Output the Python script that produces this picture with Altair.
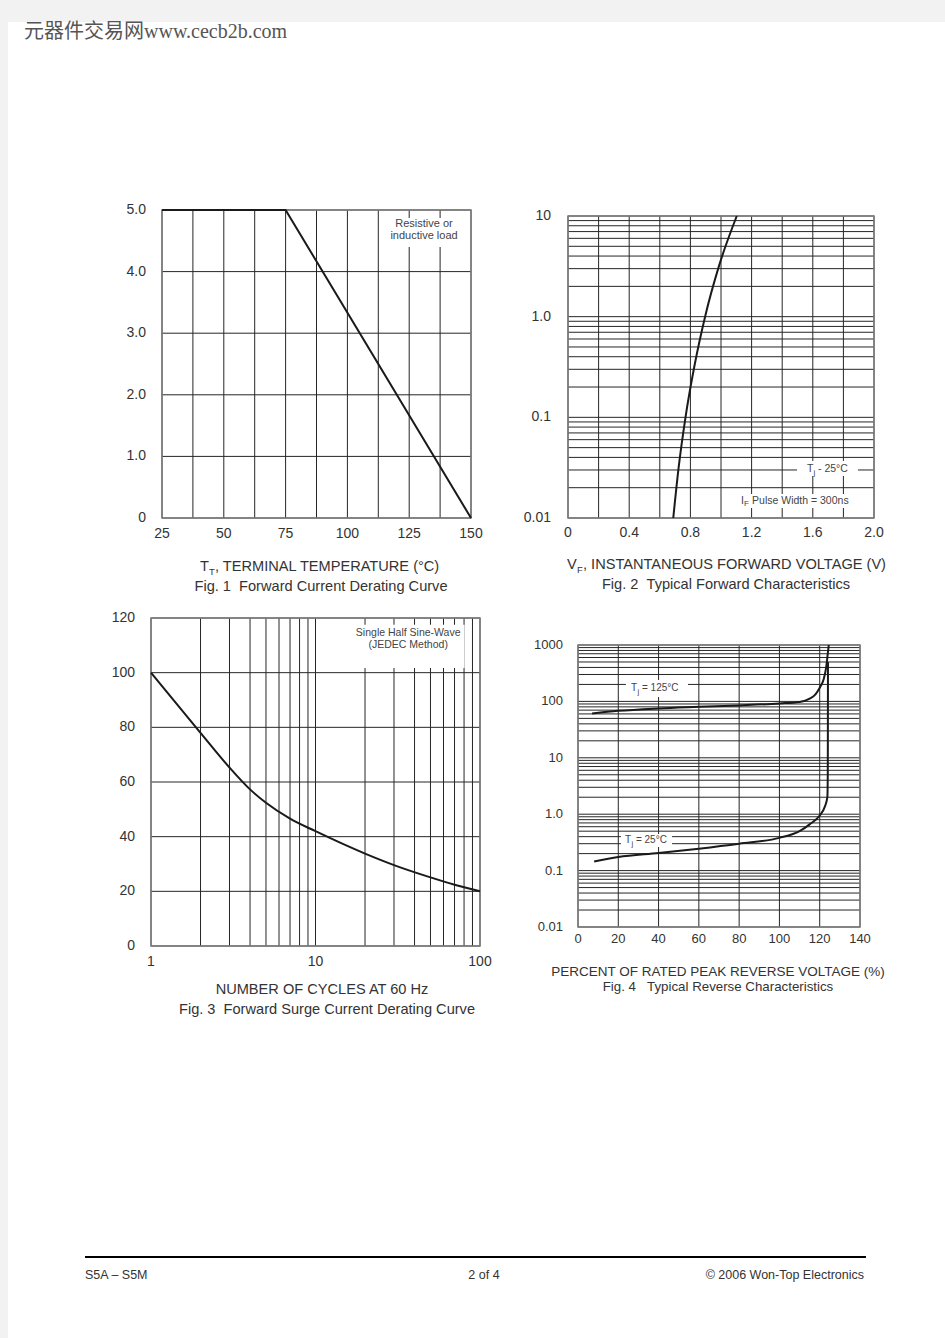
import altair as alt
import pandas as pd

FONT = "Liberation Sans"
TXT = "#333333"
GRID = "#262626"
FRAME = "#808080"
CURVE = "#1a1a1a"
NB = "\u00a0"

# ---------------- Fig. 1 : Forward current derating ----------------
F1_TEMP = [25, 75, 150]
F1_CURRENT = [5.0, 5.0, 0.0]
F1_XGRID = [25, 37.5, 50, 62.5, 75, 87.5, 100, 112.5, 125, 137.5, 150]
F1_YGRID = [0, 1, 2, 3, 4, 5]
F1_XTICKS = [25, 50, 75, 100, 125, 150]
F1_XLABELS = ["25", "50", "75", "100", "125", "150"]
F1_YTICKS = [0, 1, 2, 3, 4, 5]
F1_YLABELS = ["0", "1.0", "2.0", "3.0", "4.0", "5.0"]

# ---------------- Fig. 2 : Forward characteristics ----------------
F2_VF = [0.688, 0.723, 0.768, 0.825, 0.896, 0.986, 1.103]
F2_IF = [0.01, 0.0316, 0.1, 0.316, 1.0, 3.16, 10]
F2_XGRID = [0, 0.2, 0.4, 0.6, 0.8, 1.0, 1.2, 1.4, 1.6, 1.8, 2.0]
F2_XTICKS = [0, 0.4, 0.8, 1.2, 1.6, 2.0]
F2_XLABELS = ["0", "0.4", "0.8", "1.2", "1.6", "2.0"]
F2_YTICKS = [0.01, 0.1, 1, 10]
F2_YLABELS = ["0.01", "0.1", "1.0", "10"]

# ---------------- Fig. 3 : Surge current derating ----------------
F3_CYCLES = [1, 2, 3, 4, 5, 7, 10, 20, 30, 50, 70, 100]
F3_SURGE = [100, 78.0, 65.3, 57.3, 52.4, 46.6, 42.0, 33.8, 29.6, 25.1, 22.4, 20]
F3_YGRID = [0, 20, 40, 60, 80, 100, 120]
F3_XTICKS = [1, 10, 100]
F3_XLABELS = ["1", "10", "100"]
F3_YTICKS = [0, 20, 40, 60, 80, 100, 120]
F3_YLABELS = ["0", "20", "40", "60", "80", "100", "120"]

# ---------------- Fig. 4 : Reverse characteristics ----------------
F4_PCT_125 = [7, 20, 40, 60, 80, 100, 110, 115, 118, 120, 122, 123.2, 124, 124.5]
F4_IR_125 = [61, 68, 75, 80, 85, 92, 98, 112, 135, 175, 250, 400, 700, 1000]
F4_PCT_25 = [8, 20, 40, 60, 80, 100, 110, 115, 120, 122.5, 123.8, 124.0, 124.05, 124.1]
F4_IR_25 = [0.145, 0.174, 0.205, 0.245, 0.30, 0.38, 0.50, 0.66, 0.95, 1.35, 2.0, 5, 30, 500]
F4_XGRID = [0, 20, 40, 60, 80, 100, 120, 140]
F4_XTICKS = [0, 20, 40, 60, 80, 100, 120, 140]
F4_XLABELS = ["0", "20", "40", "60", "80", "100", "120", "140"]
F4_YTICKS = [0.01, 0.1, 1, 10, 100, 1000]
F4_YLABELS = ["0.01", "0.1", "1.0", "10", "100", "1000"]

# log grid steps inside one decade
DECADE_STEPS = [1, 2, 3, 4, 5, 6, 7, 8, 9]


def log_grid(first_exp, last_exp):
    vals = []
    for e in range(first_exp, last_exp):
        for m in DECADE_STEPS:
            vals.append(m * 10.0 ** e)
    vals.append(10.0 ** last_exp)
    return vals


F2_YGRID = log_grid(-2, 1)
F3_XGRID = log_grid(0, 2)
F4_YGRID = log_grid(-2, 3)


def lin(domain, rng):
    return alt.Scale(type="linear", domain=domain, range=rng, nice=False, zero=False)


def logs(domain, rng):
    return alt.Scale(type="log", domain=domain, range=rng, nice=False)


def X(field, sc):
    return alt.X(field, type="quantitative", scale=sc, axis=None)


def Y(field, sc):
    return alt.Y(field, type="quantitative", scale=sc, axis=None)


def grid(xs, ys, xd, yd, xgrid, ygrid):
    v = pd.DataFrame({"v": xgrid, "lo": yd[0], "hi": yd[1]})
    h = pd.DataFrame({"v": ygrid, "lo": xd[0], "hi": xd[1]})
    vl = alt.Chart(v).mark_rule(color=GRID, strokeWidth=1).encode(
        x=X("v", xs), y=Y("lo", ys), y2="hi:Q")
    hl = alt.Chart(h).mark_rule(color=GRID, strokeWidth=1).encode(
        y=Y("v", ys), x=X("lo", xs), x2="hi:Q")
    return [vl, hl]


def frame(xs, ys, xd, yd):
    df = pd.DataFrame({"x": [xd[0]], "x2": [xd[1]], "y": [yd[0]], "y2": [yd[1]]})
    return alt.Chart(df).mark_rect(fill="transparent", stroke=FRAME, strokeWidth=1.5).encode(
        x=X("x", xs), x2="x2:Q", y=Y("y", ys), y2="y2:Q")


def labels(xs, ys, xd, yd, xt, xl, yt, yl, size, xdy, ydx):
    dfx = pd.DataFrame({"v": xt, "t": xl, "b": yd[0]})
    dfy = pd.DataFrame({"v": yt, "t": yl, "b": xd[0]})
    lx = alt.Chart(dfx).mark_text(font=FONT, fontSize=size, color=TXT, baseline="middle",
                                  align="center", dy=xdy).encode(
        x=X("v", xs), y=Y("b", ys), text="t:N")
    ly = alt.Chart(dfy).mark_text(font=FONT, fontSize=size, color=TXT, baseline="middle",
                                  align="right", dx=-ydx).encode(
        x=X("b", xs), y=Y("v", ys), text="t:N")
    return [lx, ly]


def curve(xs, ys, xv, yv, interp="monotone"):
    df = pd.DataFrame({"x": xv, "y": yv, "o": list(range(len(xv)))})
    return alt.Chart(df).mark_line(color=CURVE, strokeWidth=2, interpolate=interp).encode(
        x=X("x", xs), y=Y("y", ys), order="o:Q")


def box(xs, ys, x0, x1, y0, y1):
    df = pd.DataFrame({"x": [x0], "x2": [x1], "y": [y0], "y2": [y1]})
    return alt.Chart(df).mark_rect(color="white").encode(
        x=X("x", xs), x2="x2:Q", y=Y("y", ys), y2="y2:Q")


def ann(xs, ys, x, y, pieces, align="left"):
    out = []
    for text, dx, dy, size in pieces:
        df = pd.DataFrame({"x": [x], "y": [y], "t": [text]})
        out.append(alt.Chart(df).mark_text(font=FONT, fontSize=size, color="#444444",
                                           align=align, baseline="middle", dx=dx, dy=dy).encode(
            x=X("x", xs), y=Y("y", ys), text="t:N"))
    return out


def page_text(text, px, py, size, align="center", font=FONT, color=TXT, baseline="middle"):
    df = pd.DataFrame({"t": [text]})
    return alt.Chart(df).mark_text(font=font, fontSize=size, color=color, align=align,
                                   baseline=baseline).encode(
        x=alt.value(px), y=alt.value(py), text="t:N")


layers = []

# page
one = pd.DataFrame({"k": [0]})
layers.append(alt.Chart(one).mark_rect(color="white").encode(
    x=alt.value(8), x2=alt.value(945), y=alt.value(22), y2=alt.value(1338)))
layers.append(page_text("元器件交易网www.cecb2b.com", 24, 38, 20, align="left",
                        font="Liberation Serif, Noto Sans CJK SC", color="#555555",
                        baseline="alphabetic"))

CAP = 14.6

# ---- Fig 1 ----
xd1, yd1 = [25, 150], [0, 5]
xs1, ys1 = lin(xd1, [162, 471]), lin(yd1, [518, 210])
layers += grid(xs1, ys1, xd1, yd1, F1_XGRID, F1_YGRID)
layers.append(frame(xs1, ys1, xd1, yd1))
layers.append(box(xs1, ys1, 116.4, 145.6, 4.40, 4.87))
layers += ann(xs1, ys1, 131, 4.77, [("Resistive or", 0, 0, 11)], align="center")
layers += ann(xs1, ys1, 131, 4.58, [("inductive load", 0, 0, 11)], align="center")
layers.append(curve(xs1, ys1, F1_TEMP, F1_CURRENT, interp="linear"))
layers += labels(xs1, ys1, xd1, yd1, F1_XTICKS, F1_XLABELS, F1_YTICKS, F1_YLABELS, 14, 16, 16)
layers.append(page_text("T", 200, 567, CAP, align="left"))
layers.append(page_text("T", 209, 572, 9.5, align="left"))
layers.append(page_text(", TERMINAL TEMPERATURE (°C)", 215, 567, CAP, align="left"))
layers.append(page_text("Fig. 1" + NB + NB + "Forward Current Derating Curve", 321, 587, CAP))

# ---- Fig 2 ----
xd2, yd2 = [0, 2.0], [0.01, 10]
xs2, ys2 = lin(xd2, [568, 874]), logs(yd2, [518, 216])
layers += grid(xs2, ys2, xd2, yd2, F2_XGRID, F2_YGRID)
layers.append(frame(xs2, ys2, xd2, yd2))
layers.append(box(xs2, ys2, 1.497, 1.895, 0.0261, 0.0368))
layers.append(box(xs2, ys2, 1.105, 1.863, 0.0126, 0.0173))
layers += ann(xs2, ys2, 1.562, 0.0307, [("T", 0, 0, 10.5), ("j", 6.5, 4, 8), ("- 25°C", 11, 0, 10.5)])
layers += ann(xs2, ys2, 1.131, 0.0148, [("I", 0, 0, 10.5), ("F", 3, 3, 8), ("Pulse Width = 300ns", 11, 0, 10.5)])
layers.append(curve(xs2, ys2, F2_VF, F2_IF))
layers += labels(xs2, ys2, xd2, yd2, F2_XTICKS, F2_XLABELS, F2_YTICKS, F2_YLABELS, 14, 15, 17)
layers.append(page_text("V", 567, 565, CAP, align="left"))
layers.append(page_text("F", 577, 570, 9.5, align="left"))
layers.append(page_text(", INSTANTANEOUS FORWARD VOLTAGE (V)", 583, 565, CAP, align="left"))
layers.append(page_text("Fig. 2" + NB + NB + "Typical Forward Characteristics", 726, 585, CAP))

# ---- Fig 3 ----
xd3, yd3 = [1, 100], [0, 120]
xs3, ys3 = logs(xd3, [151, 480]), lin(yd3, [946, 618])
layers += grid(xs3, ys3, xd3, yd3, F3_XGRID, F3_YGRID)
layers.append(frame(xs3, ys3, xd3, yd3))
layers.append(box(xs3, ys3, 16.6, 80.6, 101.7, 117.5))
layers += ann(xs3, ys3, 36.6, 114.5, [("Single Half Sine-Wave", 0, 0, 10.5)], align="center")
layers += ann(xs3, ys3, 36.6, 110.1, [("(JEDEC Method)", 0, 0, 10.5)], align="center")
layers.append(curve(xs3, ys3, F3_CYCLES, F3_SURGE))
layers += labels(xs3, ys3, xd3, yd3, F3_XTICKS, F3_XLABELS, F3_YTICKS, F3_YLABELS, 14, 16, 16)
layers.append(page_text("NUMBER OF CYCLES AT 60 Hz", 322, 990, CAP))
layers.append(page_text("Fig. 3" + NB + NB + "Forward Surge Current Derating Curve", 327, 1010, CAP))

# ---- Fig 4 ----
xd4, yd4 = [0, 140], [0.01, 1000]
xs4, ys4 = lin(xd4, [578, 860]), logs(yd4, [927, 645])
layers += grid(xs4, ys4, xd4, yd4, F4_XGRID, F4_YGRID)
layers.append(frame(xs4, ys4, xd4, yd4))
layers.append(box(xs4, ys4, 23.8, 54.6, 120, 239))
layers.append(box(xs4, ys4, 21.3, 46.7, 0.262, 0.446))
layers += ann(xs4, ys4, 26.3, 173, [("T", 0, 0, 10), ("j", 6.5, 4, 7.5), ("= 125°C", 11, 0, 10)])
layers += ann(xs4, ys4, 23.3, 0.349, [("T", 0, 0, 10), ("j", 6.5, 4, 7.5), ("= 25°C", 11, 0, 10)])
layers.append(curve(xs4, ys4, F4_PCT_125, F4_IR_125))
layers.append(curve(xs4, ys4, F4_PCT_25, F4_IR_25))
layers += labels(xs4, ys4, xd4, yd4, F4_XTICKS, F4_XLABELS, F4_YTICKS, F4_YLABELS, 13, 12, 15)
layers.append(page_text("PERCENT OF RATED PEAK REVERSE VOLTAGE (%)", 718, 972, 13.5))
layers.append(page_text("Fig. 4" + NB + NB + NB + "Typical Reverse Characteristics", 718, 987, 13.3))

# ---- footer ----
layers.append(alt.Chart(one).mark_rule(color="black", strokeWidth=2).encode(
    x=alt.value(85), x2=alt.value(866), y=alt.value(1257)))
layers.append(page_text("S5A – S5M", 85, 1275, 12.5, align="left"))
layers.append(page_text("2 of 4", 484, 1275, 12.5))
layers.append(page_text("© 2006 Won-Top Electronics", 864, 1275, 12.5, align="right"))

chart = alt.layer(*layers).resolve_scale(x="independent", y="independent").properties(
    width=945, height=1338, padding=0, background="#f2f2f2",
    autosize=alt.AutoSizeParams(type="none"),
).configure_view(strokeWidth=0)

chart.save("out.html", embed_options={"renderer": "svg", "actions": False})
